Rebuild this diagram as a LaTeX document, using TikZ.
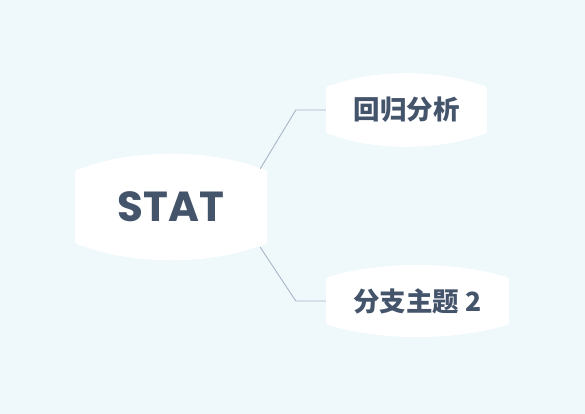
\documentclass[tikz,border=0pt]{standalone}
\usepackage{fontspec}
\setmainfont{Poppins}
\newfontfamily\cjk{Noto Sans CJK SC}
\usetikzlibrary{calc,backgrounds}

\definecolor{bgblue}{HTML}{EFF8FB}
\definecolor{topictext}{HTML}{44546B}
\definecolor{branchline}{HTML}{A7B6C6}

% white box with bulged top and bottom, #1 node name, #2 bulge
\newcommand\topicbox[2]{%
  \fill[white] ($(#1.north west)+(0,-7)$) .. controls (#1.north west) .. ($(#1.north west)+(7,1.5)$)
    .. controls ($(#1.north west)!0.3!(#1.north east)+(0,#2)$) and ($(#1.north west)!0.7!(#1.north east)+(0,#2)$) .. ($(#1.north east)+(-7,1.5)$)
    .. controls (#1.north east) .. ($(#1.north east)+(0,-7)$)
    -- ($(#1.south east)+(0,7)$) .. controls (#1.south east) .. ($(#1.south east)+(-7,-1.5)$)
    .. controls ($(#1.south west)!0.7!(#1.south east)+(0,-#2)$) and ($(#1.south west)!0.3!(#1.south east)+(0,-#2)$) .. ($(#1.south west)+(7,-1.5)$)
    .. controls (#1.south west) .. ($(#1.south west)+(0,7)$) -- cycle;}

\begin{document}
\begin{tikzpicture}[x=1pt,y=1pt,
                    branch/.style={draw=branchline,line width=0.9pt},
                    central/.style={inner sep=0pt,minimum width=192pt,minimum height=74pt,
                      text=topictext,font=\fontsize{42}{42}\selectfont\bfseries},
                    subtopic/.style={inner sep=0pt,minimum height=47pt,
                      text=topictext,font=\fontsize{26.5}{26.5}\selectfont\cjk\bfseries}]
  \useasboundingbox (0,0) rectangle (585,414);

  \node[central]                         (stat) at (171,207)   {STAT};
  \node[subtopic,minimum width=161pt]    (reg)  at (406.5,304) {回归分析};
  \node[subtopic,minimum width=183pt]    (sub)  at (417.5,113) {分支主题 2};

  \draw[branch] ($(stat.north east)+(-7,1)$) -- ($(reg.west)+(-30,0)$) -- (reg.west);
  \draw[branch] ($(stat.south east)+(-7,-3)$) -- ($(sub.west)+(-30,0)$) -- (sub.west);

  \begin{pgfonlayer}{background}
    \fill[bgblue] (0,0) rectangle (585,414);
    \topicbox{stat}{21}
    \topicbox{reg}{17}
    \topicbox{sub}{16}
  \end{pgfonlayer}

\end{tikzpicture}
\end{document}
